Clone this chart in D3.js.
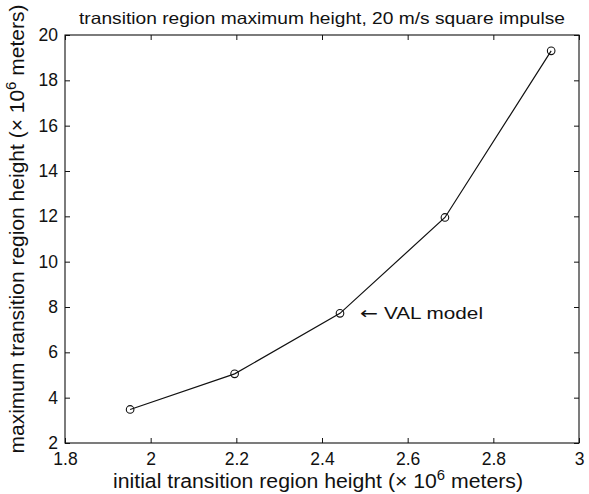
<!DOCTYPE html>
<html>
<head>
<meta charset="utf-8">
<script src="https://cdn.jsdelivr.net/npm/d3@7"></script>
<style>
  html, body { margin: 0; padding: 0; background: #fff; }
  svg text { font-family: "Liberation Sans", Arial, Helvetica, sans-serif; fill: #111; }
</style>
</head>
<body>
<svg id="chart" width="589" height="494"></svg>
<script>
// Initial transition region height (x 10^6 m) and resulting maximum height (x 10^6 m)
const initialHeight = [1.952, 2.196, 2.442, 2.687, 2.935];
const maxHeight = [3.48, 5.05, 7.72, 11.95, 19.3];
const xTicks = [1.8, 2, 2.2, 2.4, 2.6, 2.8, 3];
const yTicks = [2, 4, 6, 8, 10, 12, 14, 16, 18, 20];
const annotation = { index: 2, text: "VAL model" };

const svg = d3.select("#chart");
const W = 589, H = 494;
const margin = { left: 65, right: 10, top: 35, bottom: 51 };
const x = d3.scaleLinear().domain([1.8, 3]).range([margin.left, W - margin.right]);
const y = d3.scaleLinear().domain([2, 20]).range([H - margin.bottom, margin.top]);

const tickLen = 5;
const fmt = d => String(+d.toFixed(1));

// frame
svg.append("rect")
  .attr("x", x(1.8)).attr("y", y(20))
  .attr("width", x(3) - x(1.8)).attr("height", y(2) - y(20))
  .attr("fill", "none").attr("stroke", "#111").attr("stroke-width", 1.1);

// axes with inward ticks on all four sides
const styleAxis = g => {
  g.select(".domain").remove();
  g.selectAll("line").attr("stroke", "#111");
  g.selectAll("text").attr("font-size", 17.5)
    .style("font-family", "'Liberation Sans', Arial, sans-serif").attr("fill", "#111");
};
svg.append("g").attr("transform", `translate(0,${y(2)})`)
  .call(d3.axisBottom(x).tickValues(xTicks).tickFormat(fmt).tickSizeInner(-tickLen).tickSizeOuter(0).tickPadding(10))
  .call(styleAxis);
svg.append("g").attr("transform", `translate(0,${y(20)})`)
  .call(d3.axisTop(x).tickValues(xTicks).tickFormat("").tickSizeInner(-tickLen).tickSizeOuter(0))
  .call(styleAxis);
svg.append("g").attr("transform", `translate(${x(1.8)},0)`)
  .call(d3.axisLeft(y).tickValues(yTicks).tickFormat(fmt).tickSizeInner(-tickLen).tickSizeOuter(0).tickPadding(7))
  .call(styleAxis);
svg.append("g").attr("transform", `translate(${x(3)},0)`)
  .call(d3.axisRight(y).tickValues(yTicks).tickFormat("").tickSizeInner(-tickLen).tickSizeOuter(0))
  .call(styleAxis);

// data line and circle markers
const pts = initialHeight.map((v, i) => [v, maxHeight[i]]);
svg.append("path")
  .datum(pts)
  .attr("fill", "none").attr("stroke", "#111").attr("stroke-width", 1.2)
  .attr("d", d3.line().x(d => x(d[0])).y(d => y(d[1])));
svg.selectAll("circle.pt").data(pts).enter().append("circle")
  .attr("class", "pt")
  .attr("cx", d => x(d[0])).attr("cy", d => y(d[1])).attr("r", 3.8)
  .attr("fill", "none").attr("stroke", "#111").attr("stroke-width", 1.1);

// annotation beside the VAL model point: arrow then label
const ax = x(initialHeight[annotation.index]), ay = y(maxHeight[annotation.index]);
svg.append("text")
  .attr("x", ax + 20).attr("y", ay + 6)
  .style("font-family", "'DejaVu Sans', sans-serif")
  .attr("font-size", 17).attr("textLength", 18).attr("lengthAdjust", "spacingAndGlyphs")
  .text("\u2190");
svg.append("text")
  .attr("x", ax + 44).attr("y", ay + 6)
  .attr("font-size", 17).attr("textLength", 99).attr("lengthAdjust", "spacingAndGlyphs")
  .text(annotation.text);

// title
svg.append("text")
  .attr("x", (x(1.8) + x(3)) / 2).attr("y", 24)
  .attr("text-anchor", "middle").attr("font-size", 16.5)
  .attr("textLength", 486).attr("lengthAdjust", "spacingAndGlyphs")
  .text("transition region maximum height, 20 m/s square impulse");

// x label
const xl = svg.append("text")
  .attr("x", 318).attr("y", 488)
  .attr("text-anchor", "middle").attr("font-size", 20)
  .attr("textLength", 410).attr("lengthAdjust", "spacingAndGlyphs");
xl.append("tspan").text("initial transition region height (\u00d7 10");
xl.append("tspan").attr("dy", -8).attr("font-size", 14).text("6");
xl.append("tspan").attr("dy", 8).text(" meters)");

// y label
const yl = svg.append("text")
  .attr("transform", `translate(24,229) rotate(-90)`)
  .attr("text-anchor", "middle").attr("font-size", 21);
yl.append("tspan").text("maximum transition region height (\u00d7 10");
yl.append("tspan").attr("dy", -8).attr("font-size", 15).text("6");
yl.append("tspan").attr("dy", 8).text(" meters)");
</script>
</body>
</html>
